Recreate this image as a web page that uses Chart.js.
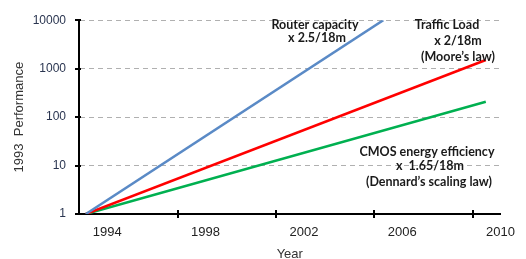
<!DOCTYPE html>
<html>
<head>
<meta charset="utf-8">
<script src="https://cdn.jsdelivr.net/npm/chart.js@4"></script>
<style>
  html, body { margin: 0; padding: 0; background: #fff; }
  #wrap { width: 526px; height: 259px; }
</style>
</head>
<body>
<div id="wrap"><canvas id="perf" width="526" height="259"></canvas></div>
<script>
// values (year, multiple of 1993 performance)
const routerYears = [1993.13, 2005.23];
const routerValues = [1, 10000];
const trafficYears = [1993.13, 2009.4];
const trafficValues = [1, 1510];
const cmosYears = [1993.13, 2009.4];
const cmosValues = [1, 208];

const yTicks = [1, 10, 100, 1000, 10000];
const xTicks = [1994, 1998, 2002, 2006, 2010];
const xTickMarks = [1996.86, 2000.86, 2004.86, 2008.86];

const toPoints = (xs, ys) => xs.map((x, i) => ({ x: x, y: ys[i] }));

// little tick marks across the axes + the text notes
const extras = {
  id: "extras",
  afterDraw(chart) {
    const c = chart.ctx;
    const xs = chart.scales.x;
    const ys = chart.scales.y;
    const area = chart.chartArea;
    c.save();
    c.strokeStyle = "#000";
    c.lineWidth = 2;
    xTickMarks.forEach((v) => {
      const px = Math.round(xs.getPixelForValue(v));
      c.beginPath();
      c.moveTo(px, area.bottom - 4);
      c.lineTo(px, area.bottom + 4);
      c.stroke();
    });
    yTicks.forEach((v) => {
      const py = Math.round(ys.getPixelForValue(v));
      c.beginPath();
      c.moveTo(area.left - 4, py);
      c.lineTo(area.left + 2, py);
      c.stroke();
    });

    c.fillStyle = "#1a1a1a";
    c.font = "bold 12.5px Lato";
    c.textAlign = "center";
    c.textBaseline = "middle";
    const notes = [
      ["Router capacity", 315, 25],
      ["x 2.5/18m", 317, 38],
      ["Traffic Load", 447, 25],
      ["x 2/18m", 458, 41],
      ["(Moore\u2019s law)", 458, 57],
      ["CMOS energy efficiency", 427, 152],
      ["x  1.65/18m", 430, 166],
      ["(Dennard\u2019s scaling law)", 429, 182],
    ];
    notes.forEach((n) => c.fillText(n[0], n[1], n[2]));
    c.restore();
  },
};

const ctx = document.getElementById("perf");
new Chart(ctx, {
  type: "line",
  data: {
    datasets: [
      {
        label: "Router capacity",
        data: toPoints(routerYears, routerValues),
        borderColor: "#5a8ac6",
      },
      {
        label: "Traffic Load",
        data: toPoints(trafficYears, trafficValues),
        borderColor: "#ff0000",
      },
      {
        label: "CMOS energy efficiency",
        data: toPoints(cmosYears, cmosValues),
        borderColor: "#00b050",
      },
    ],
  },
  options: {
    responsive: false,
    animation: false,
    layout: { padding: { left: 0, right: 16, top: 19, bottom: 0 } },
    elements: {
      point: { radius: 0 },
      line: { borderWidth: 2.5, tension: 0 },
    },
    plugins: {
      legend: { display: false },
      tooltip: { enabled: false },
    },
    scales: {
      x: {
        type: "linear",
        min: 1992.85,
        max: 2010,
        afterBuildTicks: (s) => {
          s.ticks = xTicks.map((v) => ({ value: v }));
        },
        afterFit: (s) => {
          s.height = 45;
        },
        grid: { display: false, drawTicks: false },
        border: { color: "#000", width: 2 },
        ticks: {
          color: "#222",
          padding: 11,
          maxRotation: 0,
          font: { family: "Liberation Sans", size: 13 },
          callback: (v) => String(v),
        },
        title: {
          display: true,
          text: "Year",
          color: "#333",
          padding: { top: 0, bottom: -3 },
          font: { family: "Liberation Sans", size: 13, lineHeight: 1.1 },
        },
      },
      y: {
        type: "logarithmic",
        min: 1,
        max: 10000,
        afterBuildTicks: (s) => {
          s.ticks = yTicks.map((v) => ({ value: v }));
        },
        afterFit: (s) => {
          s.width = 79;
        },
        grid: {
          color: (c) => (c.tick && c.tick.value === 1 ? "rgba(0,0,0,0)" : "#b0b0b0"),
          lineWidth: 1,
          drawTicks: false,
        },
        border: { color: "#000", width: 2, dash: [5, 4] },
        ticks: {
          color: "#2a3550",
          padding: 13,
          font: { family: "Liberation Sans", size: 12 },
          callback: (v) => String(v),
        },
        title: {
          display: true,
          text: "1993  Performance",
          color: "#333",
          padding: { top: 12, bottom: 0 },
          font: { family: "Liberation Sans", size: 13 },
        },
      },
    },
  },
  plugins: [extras],
});
</script>
</body>
</html>
